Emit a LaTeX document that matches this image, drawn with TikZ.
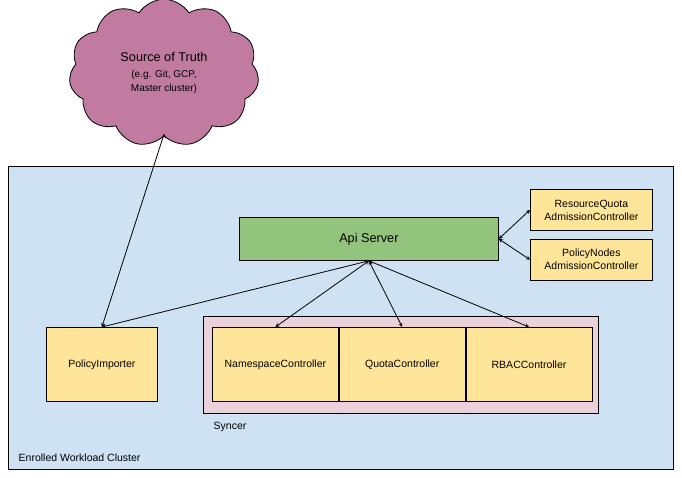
\documentclass[tikz,border=0pt]{standalone}
\usepackage{fontspec}
\setmainfont{Liberation Sans}
\usetikzlibrary{shapes.symbols,positioning}
\definecolor{clusterblue}{HTML}{CFE2F3}
\definecolor{cloudpink}{HTML}{C27BA0}
\definecolor{apigreen}{HTML}{93C47D}
\definecolor{ctrlyellow}{HTML}{FFE599}
\definecolor{syncerpink}{HTML}{EAD1DC}

\begin{document}
\begin{tikzpicture}[x=1pt, y=-1pt, line width=0.8pt, >=stealth,
        box/.style = {draw=black, fill=ctrlyellow, inner sep=0pt, anchor=north west, align=center, font=\fontsize{10.5}{13}\selectfont},
        ctrl/.style = {box, minimum width=126pt, minimum height=74pt},
        admission/.style = {box, minimum width=122pt, minimum height=41pt},
        group/.style = {draw=black, inner sep=0pt, anchor=north west},
        link/.style = {<->, draw=black}]
    \useasboundingbox (0,0) rectangle (682,478);
    \node[group, fill=clusterblue, minimum width=665pt, minimum height=303pt] (cluster) at (8,166) {};
    \node[anchor=west, font=\fontsize{10.5}{13}\selectfont] (clusterlabel) at (15,458) {Enrolled Workload Cluster};
    \node[cloud, cloud puffs=11, cloud puff arc=115, draw=black, fill=cloudpink, minimum width=190pt, minimum height=138pt, align=center, font=\fontsize{12.7}{15}\selectfont] (truth) at (164,73) {Source of Truth\\[1pt]{\fontsize{10}{13}\selectfont (e.g. Git, GCP,}\\[-1pt]{\fontsize{10}{13}\selectfont Master cluster)}};
    \node[box, fill=apigreen, minimum width=259pt, minimum height=43pt, font=\fontsize{12.7}{15}\selectfont] (api) at (239,217) {Api Server};
    \node[admission] (rqadm) at (530,189) {ResourceQuota\\AdmissionController};
    \node[admission, below=8pt of rqadm.south west, anchor=north west] (pnadm) {PolicyNodes\\AdmissionController};
    \node[box, minimum width=111pt, minimum height=74pt] (importer) at (46,327) {PolicyImporter};
    \node[group, fill=syncerpink, minimum width=395pt, minimum height=97pt] (syncer) at (203,316) {};
    \node[anchor=west, font=\fontsize{10.5}{13}\selectfont] (syncerlabel) at (210,427) {Syncer};
    \node[ctrl] (nsctrl) at (212,327) {NamespaceController};
    \node[ctrl, right=0pt of nsctrl.north east, anchor=north west] (quotactrl) {QuotaController};
    \node[ctrl, right=0pt of quotactrl.north east, anchor=north west] (rbacctrl) {RBACController};

    \draw[->] (truth.south) ++(0,-2) coordinate (truthfoot);
    \draw[->] (truthfoot) -- (importer.north);
    \draw[link] (api.south) -- (importer.north);
    \draw[link] (api.south) -- (nsctrl.north);
    \draw[link] (api.south) -- (quotactrl.north);
    \draw[link] (api.south) -- (rbacctrl.north);
    \draw[link] (api.east) -- (rqadm.west);
    \draw[link] (api.east) -- (pnadm.west);
\end{tikzpicture}
\end{document}
